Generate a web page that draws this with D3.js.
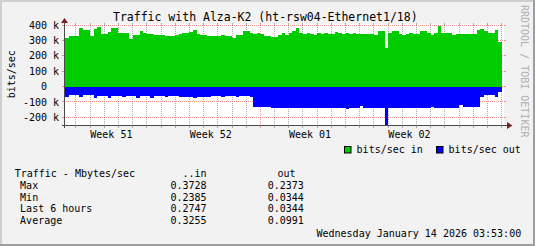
<!DOCTYPE html>
<html><head><meta charset="utf-8">
<script src="https://cdn.jsdelivr.net/npm/d3@7"></script>
<style>
html,body{margin:0;padding:0;background:#F2F2F2;}
svg{display:block;}
text{font-family:"DejaVu Sans Mono",monospace;fill:#000;}
</style>
</head><body>
<svg id="c" width="535" height="246"></svg>
<script>
// ---------- data ----------
const title = "Traffic with Alza-K2 (ht-rsw04-Ethernet1/18)";
const yAxisTitle = "bits/sec";
const timeStart = "2025-12-14T03:53:00Z";
const timeEnd = "2026-01-14T03:53:00Z";
const firstBucket = "2025-12-14T06:00:00Z";
const stepHours = 6;
// bits/sec in, thousands (6-hour averages)
const inValues = [318,330,326,326,378,365,365,326,372,385,
  340,340,357,378,378,348,348,347,307,334,
  334,363,350,342,342,333,333,332,327,328,
  327,335,339,350,346,357,365,343,335,335,
  328,326,326,326,333,326,326,315,335,335,
  361,361,346,343,348,339,326,326,324,324,
  335,346,335,345,361,383,350,343,346,339,
  335,346,339,346,339,343,354,350,343,350,
  339,348,339,339,339,339,339,335,359,359,
  250,350,359,359,343,336,339,350,339,339,
  359,359,346,333,350,391,346,350,346,333,
  339,339,339,339,339,339,365,372,361,346,
  346,365,288];
// bits/sec out, thousands (drawn below zero)
const outValues = [70,57,57,57,70,57,57,57,76,61,
  61,61,74,61,61,61,67,61,61,61,
  74,61,61,61,74,61,61,61,70,61,
  61,61,70,65,65,65,74,65,65,65,
  70,61,61,61,70,61,61,61,70,61,
  61,61,70,133,133,133,130,130,140,140,
  140,140,140,140,140,140,140,140,140,140,
  140,140,140,140,140,140,140,140,140,146,
  140,140,140,128,141,141,141,141,141,141,
  249,141,141,141,141,141,141,141,141,141,
  141,141,141,135,141,141,141,141,141,141,
  141,122,135,135,135,135,135,70,57,57,
  57,70,36];
const yTickValues = [-200000,-100000,0,100000,200000,300000,400000];
const yTickLabels = ["-200 k","-100 k","0","100 k","200 k","300 k","400 k"];
const weekLabels = ["Week 51","Week 52","Week 01","Week 02"];
const seriesNames = ["bits/sec in","bits/sec out"];
const seriesColors = ["#00CC00","#0000FF"];
const statHeader = ["Traffic - Mbytes/sec","..in","out"];
const statNames = ["Max","Min","Last 6 hours","Average"];
const statIn = ["0.3728","0.2385","0.2747","0.3255"];
const statOut = ["0.2373","0.0344","0.0344","0.0991"];
const stamp = "Wednesday January 14 2026 03:53:00";
const watermark = "RRDTOOL / TOBI OETIKER";

// ---------- drawing ----------
const W = 535, H = 246;
const svg = d3.select("#c");
const x = d3.scaleUtc().domain([new Date(timeStart), new Date(timeEnd)]).range([64, 504]);
const y = d3.scaleLinear().domain([-250000, 400000]).range([125, 25]);
const X0 = x.range()[0], X1 = x.range()[1], Y0 = y.range()[0], Y1 = y.range()[1];
const px = v => Math.floor(v) + 0.5;

// frame
svg.append("rect").attr("width", W).attr("height", H).attr("fill", "#F2F2F2");
svg.append("rect").attr("x", 0).attr("y", 0).attr("width", W).attr("height", 2).attr("fill", "#CFCFCF");
svg.append("rect").attr("x", 0).attr("y", 0).attr("width", 2).attr("height", H).attr("fill", "#CFCFCF");
svg.append("rect").attr("x", 0).attr("y", H - 2).attr("width", W).attr("height", 2).attr("fill", "#9E9E9E");
svg.append("rect").attr("x", W - 2).attr("y", 0).attr("width", 2).attr("height", H).attr("fill", "#9E9E9E");

// canvas
svg.append("rect").attr("x", X0 + 1).attr("y", Y1 - 1).attr("width", X1 - X0 - 1).attr("height", Y0 - Y1 + 1).attr("fill", "#FFFFFF");

const gridCol = "rgba(143,143,143,0.75)";
const mgridCol = "rgba(222,79,79,0.6)";
const grid = svg.append("g").attr("shape-rendering", "crispEdges");

// vertical grid: days (minor) and Sundays (major)
const days = d3.utcDay.range(x.domain()[0], x.domain()[1]);
days.forEach(d => {
  const major = d.getUTCDay() === 0;
  const c = major ? mgridCol : gridCol;
  const xx = px(x(d));
  grid.append("line").attr("x1", xx).attr("x2", xx).attr("y1", Y1).attr("y2", Y0)
    .attr("stroke", c).attr("stroke-dasharray", "1,1");
  grid.append("line").attr("x1", xx).attr("x2", xx).attr("y1", Y0).attr("y2", Y0 + 3).attr("stroke", c);
  grid.append("line").attr("x1", xx).attr("x2", xx).attr("y1", Y1 - 2).attr("y2", Y1).attr("stroke", c);
});
// horizontal grid
yTickValues.forEach(v => {
  const yy = px(y(v));
  grid.append("line").attr("x1", X0).attr("x2", X1).attr("y1", yy).attr("y2", yy)
    .attr("stroke", mgridCol).attr("stroke-dasharray", "1,1");
  grid.append("line").attr("x1", X0 - 2).attr("x2", X0).attr("y1", yy).attr("y2", yy).attr("stroke", mgridCol);
  grid.append("line").attr("x1", X1).attr("x2", X1 + 2).attr("y1", yy).attr("y2", yy).attr("stroke", mgridCol);
});

// data
const t0 = new Date(firstBucket).getTime();
const stepMs = stepHours * 3600e3;
function pts(vals, sign) {
  const p = vals.map((v, i) => ({t: new Date(t0 + i * stepMs), v: sign * v * 1000}));
  p.push({t: new Date(t0 + vals.length * stepMs), v: sign * vals[vals.length - 1] * 1000});
  return p;
}
svg.append("clipPath").attr("id", "clip").append("rect")
  .attr("x", X0 + 1).attr("y", Y1).attr("width", X1 - X0 - 1).attr("height", Y0 - Y1);
const area = d3.area().x(d => x(d.t)).y0(y(0)).y1(d => y(d.v)).curve(d3.curveStepAfter);
const dg = svg.append("g").attr("clip-path", "url(#clip)").attr("shape-rendering", "crispEdges");
dg.append("path").datum(pts(inValues, 1)).attr("d", area).attr("fill", seriesColors[0]);
dg.append("path").datum(pts(outValues, -1)).attr("d", area).attr("fill", seriesColors[1]);

// axes
const axCol = "#4a4a4a";
svg.append("line").attr("x1", X0 - 2).attr("x2", X1 + 4).attr("y1", px(Y0)).attr("y2", px(Y0))
  .attr("stroke", axCol).attr("shape-rendering", "crispEdges");
svg.append("line").attr("x1", px(X0)).attr("x2", px(X0)).attr("y1", Y0 + 3).attr("y2", Y1 - 3)
  .attr("stroke", axCol).attr("shape-rendering", "crispEdges");
const arrowCol = "#801F1F";
svg.append("path").attr("d", `M${X1 + 3},${px(Y0) - 3.5}L${X1 + 8.5},${px(Y0)}L${X1 + 3},${px(Y0) + 3.5}Z`).attr("fill", arrowCol);
svg.append("path").attr("d", `M${px(X0) - 3.5},${Y1 - 2}L${px(X0)},${Y1 - 7}L${px(X0) + 3.5},${Y1 - 2}Z`).attr("fill", arrowCol);

// y tick labels
yTickValues.forEach((v, i) => {
  const lab = yTickLabels[i];
  const shift = lab.indexOf("k") < 0 ? 12.04 : 0;
  svg.append("text").attr("x", 59 - shift).attr("y", y(v) + 3.6)
    .attr("text-anchor", "end").attr("font-size", "10px").text(lab);
});

// week labels
const weekStarts = d3.utcSunday.range(d3.utcSunday.floor(x.domain()[0]), x.domain()[1])
  .map(s => new Date(s.getTime() + 3.5 * 864e5))
  .filter(t => t >= x.domain()[0] && t <= x.domain()[1]);
weekStarts.forEach((t, i) => {
  svg.append("text").attr("x", x(t)).attr("y", 138.4).attr("text-anchor", "middle")
    .attr("font-size", "10px").text(weekLabels[i]);
});

// title
svg.append("text").attr("x", 265.3).attr("y", 21.3).attr("text-anchor", "middle")
  .attr("font-size", "11.5px").text(title);
// y axis title
svg.append("text").attr("transform", "translate(14.8,74.2) rotate(-90)").attr("text-anchor", "middle")
  .attr("font-size", "10px").text(yAxisTitle);
// watermark
svg.append("text").attr("transform", "translate(520.5,5) rotate(90)").attr("text-anchor", "start")
  .attr("font-size", "10px").style("fill", "#AFAFAF").text(watermark);

// legend
const legX = [344, 436], legTX = [356.6, 448.6];
seriesNames.forEach((n, i) => {
  svg.append("rect").attr("x", legX[i] + 0.5).attr("y", 146.5).attr("width", 6.5).attr("height", 6.5)
    .attr("fill", seriesColors[i]).attr("stroke", "#000").attr("stroke-width", 1);
  svg.append("text").attr("x", legTX[i]).attr("y", 153.3).attr("font-size", "10px").text(n);
});

// stats table
const rowY = [189, 200.7, 212.3, 224];
svg.append("text").attr("x", 14.7).attr("y", 177.3).attr("font-size", "10px").text(statHeader[0]);
svg.append("text").attr("x", 206.5).attr("y", 177.3).attr("text-anchor", "end").attr("font-size", "10px").text(statHeader[1]);
svg.append("text").attr("x", 277.5).attr("y", 177.3).attr("font-size", "10px").text(statHeader[2]);
statNames.forEach((n, i) => {
  svg.append("text").attr("x", 20.1).attr("y", rowY[i]).attr("font-size", "10px").text(n);
  svg.append("text").attr("x", 206.5).attr("y", rowY[i]).attr("text-anchor", "end").attr("font-size", "10px").text(statIn[i]);
  svg.append("text").attr("x", 267.7).attr("y", rowY[i]).attr("font-size", "10px").text(statOut[i]);
});
svg.append("text").attr("x", 521.2).attr("y", 237.3).attr("text-anchor", "end").attr("font-size", "10px").text(stamp);
</script>
</body></html>
